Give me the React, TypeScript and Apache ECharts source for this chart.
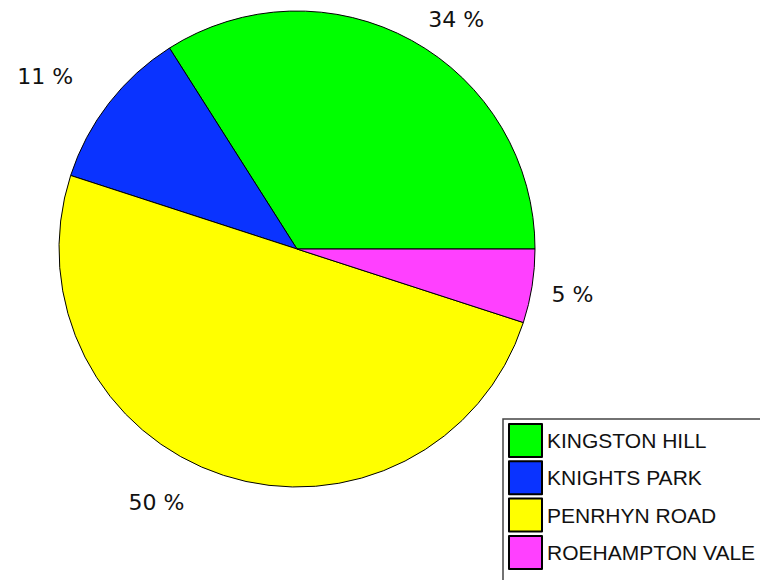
import React, { useEffect, useRef } from "react";
import * as echarts from "echarts";

const categories = ["KINGSTON HILL", "KNIGHTS PARK", "PENRHYN ROAD", "ROEHAMPTON VALE"];
const values = [34, 11, 50, 5];

const colors = ["#00FF00", "#0A33FF", "#FFFF00", "#FF40FF"];
// label placement tweaks (styling only)
const labelLineLength = [24, 44, 29, 50];
const labelLineLength2 = [0, -4, 25, -35];

export default function App() {
  const ref = useRef<HTMLDivElement>(null);
  useEffect(() => {
    const chart = echarts.init(ref.current!, null, { renderer: "svg" });
    chart.setOption({
      animation: false,
      backgroundColor: "#ffffff",
      graphic: [
        {
          type: "rect",
          z: -1,
          shape: { x: 503, y: 419, width: 400, height: 300 },
          style: { fill: "#ffffff", stroke: "#444", lineWidth: 1.5 },
          silent: true,
        },
      ],
      legend: {
        orient: "vertical",
        left: 503,
        top: 418,
        width: 300,
        height: 200,
        padding: [5, 5, 5, 5],
        itemWidth: 33,
        itemHeight: 33,
        itemGap: 2.3,
        icon: "rect",
        selectedMode: false,
        textStyle: {
          fontFamily: "Liberation Sans",
          fontSize: 21,
          color: "#111",
          lineHeight: 22,
          padding: [0, 0, 9, 0],
        },
        data: categories,
      },
      series: [
        {
          type: "pie",
          center: [297, 249],
          radius: 238,
          startAngle: 0,
          clockwise: false,
          avoidLabelOverlap: false,
          percentPrecision: 0,
          itemStyle: { borderColor: "#000", borderWidth: 1 },
          label: {
            show: true,
            position: "outside",
            formatter: "{d} %",
            fontFamily: "DejaVu Sans",
            fontSize: 22,
            color: "#111",
            distanceToLabelLine: 5,
          },
          labelLine: { show: false },
          emphasis: { disabled: true },
          data: categories.map((name, i) => ({
            name,
            value: values[i],
            itemStyle: { color: colors[i] },
            labelLine: { show: false, length: labelLineLength[i], length2: labelLineLength2[i] },
          })),
        },
      ],
    });
    return () => chart.dispose();
  }, []);
  return <div ref={ref} style={{ position: "fixed", left: 0, top: 0, width: 760, height: 580 }} />;
}
